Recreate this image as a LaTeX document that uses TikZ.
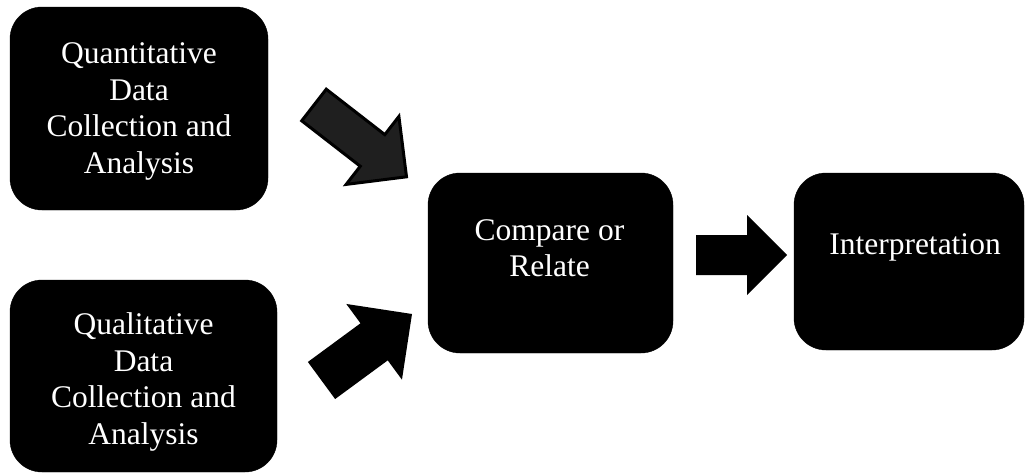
\documentclass[tikz,border=0pt]{standalone}
\usepackage{fontspec}
\setmainfont{Liberation Serif}
\usetikzlibrary{calc}

% Block arrow from a tail point to a tip point:
% #1 style, #2 tail, #3 tip, #4 half shaft width, #5 half head width, #6 head length
\newcommand\blockarrow[6][]{%
  \coordinate (neck) at ($(#3)!#6!(#2)$);
  \path[#1] ($(#2)!#4!90:(#3)$)
    -- ($(neck)!#4!-90:(#2)$)
    -- ($(neck)!#5!-90:(#2)$)
    -- (#3)
    -- ($(neck)!#5!90:(#2)$)
    -- ($(neck)!#4!90:(#2)$)
    -- ($(#2)!#4!-90:(#3)$)
    -- cycle;}

\tikzset{
  box/.style={draw=black, fill=black, rounded corners=32pt, inner sep=0pt},
  lbl/.style={text=white, align=center, inner sep=0pt,
              font=\fontsize{31.5}{36.5}\selectfont},
  solidarrow/.style={fill=black},
  outlinedarrow/.style={fill=black!88, draw=black, line width=3pt, line join=miter},
}

\begin{document}
\begin{tikzpicture}[x=1pt, y=-1pt]
  \useasboundingbox (0,0) rectangle (1029,474);

  % boxes
  \node[box, minimum width=258pt, minimum height=203pt] (quant) at (139,108.5) {};
  \node[box, minimum width=267pt, minimum height=192pt] (qual) at (143.5,376) {};
  \node[box, minimum width=245pt, minimum height=180pt] (cmp) at (550.5,263) {};
  \node[box, minimum width=230pt, minimum height=177pt] (interp) at (909,261.5) {};

  % box texts
  \node[lbl] (quantT) at ($(quant)+(0,3)$) {Quantitative\\Data\\Collection and\\Analysis};
  \node[lbl] (qualT) at ($(qual)+(0,6)$) {Qualitative\\Data\\Collection and\\Analysis};
  \node[lbl] (cmpT) at ($(cmp)+(-1,-15)$) {Compare or\\Relate};
  \node[lbl] (interpT) at ($(interp)+(6,-14)$) {Interpretation};

  % arrow end points
  \coordinate (a1s) at (314,105);
  \coordinate (a1e) at (406.5,176.8);
  \coordinate (a2s) at (321.5,380.5);
  \coordinate (a2e) at (412,314);
  \coordinate (a3s) at (696,255);
  \coordinate (a3e) at (787,255);

  % arrows
  \blockarrow[outlinedarrow]{a1s}{a1e}{20pt}{43pt}{43pt}
  \blockarrow[solidarrow]{a2s}{a2e}{23pt}{47pt}{47pt}
  \blockarrow[solidarrow]{a3s}{a3e}{20pt}{40pt}{40pt}
\end{tikzpicture}
\end{document}
